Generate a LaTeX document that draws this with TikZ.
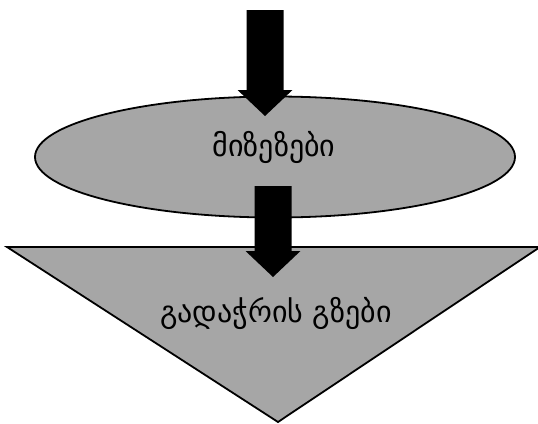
\documentclass[tikz,border=0pt]{standalone}
\usepackage{fontspec}
\newfontfamily\geofont[Script=Georgian]{DejaVu Sans}
\usetikzlibrary{shapes.geometric}
\definecolor{shade}{RGB}{166,166,166}

\begin{document}
\begin{tikzpicture}[x=1pt,y=-1pt,
  rim/.style={draw=black,line width=1.8pt,fill=shade},
  blk/.style={fill=black},
  lbl/.style={font=\geofont\fontsize{30}{34}\selectfont,inner sep=0pt}]
\useasboundingbox (0,0) rectangle (538,423);
% causes
\node[rim,ellipse,minimum width=480pt,minimum height=121pt,inner sep=0pt](cause) at (275,157){};
\coordinate (a1s) at (265,10);
\coordinate (a1t) at (265,116);
\fill[blk] (a1s) ++(-18.5,0) -- ++(37,0) -- ++(0,80) -- ++(9,0) -- (a1t) -- ++(-27.5,-26) -- ++(9,0) -- cycle;
\node[lbl](causetxt) at (274,147){მიზეზები};
% ways out
\coordinate (w1) at (7,247);
\coordinate (w2) at (540,247);
\coordinate (w3) at (278,422);
\draw[rim,line join=miter] (w1) -- (w2) -- (w3) -- cycle;
\coordinate (a2s) at (273,186);
\coordinate (a2t) at (273,277);
\fill[blk] (a2s) ++(-18.5,0) -- ++(37,0) -- ++(0,65) -- ++(9,0) -- (a2t) -- ++(-27.5,-26) -- ++(9,0) -- cycle;
\node[lbl](waytxt) at (276,313){გადაჭრის გზები};
\end{tikzpicture}
\end{document}
